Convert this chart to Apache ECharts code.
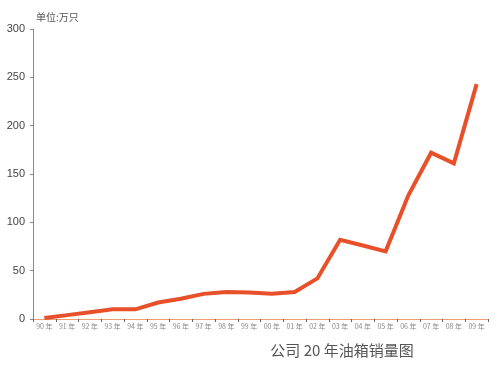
<!DOCTYPE html>
<html><head><meta charset="utf-8">
<script src="https://cdn.jsdelivr.net/npm/echarts@6/dist/echarts.min.js"></script>
<style>html,body{margin:0;padding:0;background:#fff}#c{width:500px;height:365px}</style>
</head><body><div id="c"></div>
<script>
var categories = ['90 年','91 年','92 年','93 年','94 年','95 年','96 年','97 年','98 年','99 年','00 年','01 年','02 年','03 年','04 年','05 年','06 年','07 年','08 年','09 年'];
var sales = [1, 4, 7, 10, 10, 17, 21, 26, 28, 27.5, 26, 28, 42, 82, 76, 70, 128, 172, 161, 243];
var yTicks = [0, 50, 100, 150, 200, 250, 300];
var unitText = '单位:万只';
var titleText = '公司 20 年油箱销量图';

var chart = echarts.init(document.getElementById('c'), null, {renderer:'canvas'});
chart.setOption({
  backgroundColor: '#fff',
  animation: false,
  title: {
    text: titleText, left: 337, top: 338, textAlign: 'center',
    textStyle: {fontSize: 15, fontWeight: 'normal', color: '#555', fontFamily: 'Noto Sans CJK SC'}
  },
  graphic: [{type:'text', left: 36, top: 12, style:{text: unitText, fontSize: 10, fill:'#555', fontFamily:'Noto Sans CJK SC'}}],
  grid: {left: 33, right: 12, top: 29, bottom: 46, containLabel: false},
  xAxis: {
    type: 'category', data: categories, boundaryGap: true,
    axisLine: {lineStyle: {color: '#f0a070', width: 1}},
    axisTick: {show: true, inside: false, length: 3, lineStyle: {color: '#666'}},
    axisLabel: {fontSize: 7, color: '#888', margin: 4, interval: 0, fontFamily: 'Noto Sans CJK SC'}
  },
  yAxis: {
    type: 'value', min: 0, max: 300, interval: 50,
    axisLine: {show: true, lineStyle: {color: '#888', width: 1}},
    axisTick: {show: true, length: 3, lineStyle: {color: '#888'}},
    splitLine: {show: false},
    axisLabel: {fontSize: 11, color: '#444', margin: 8, fontFamily: 'Liberation Sans',
      formatter: function(v){ return yTicks.indexOf(v) >= 0 ? String(v) : ''; }}
  },
  series: [{
    type: 'line', data: sales, showSymbol: false, symbol: 'none',
    lineStyle: {color: '#e8502a', width: 4, join: 'miter'}
  }]
});
</script></body></html>
